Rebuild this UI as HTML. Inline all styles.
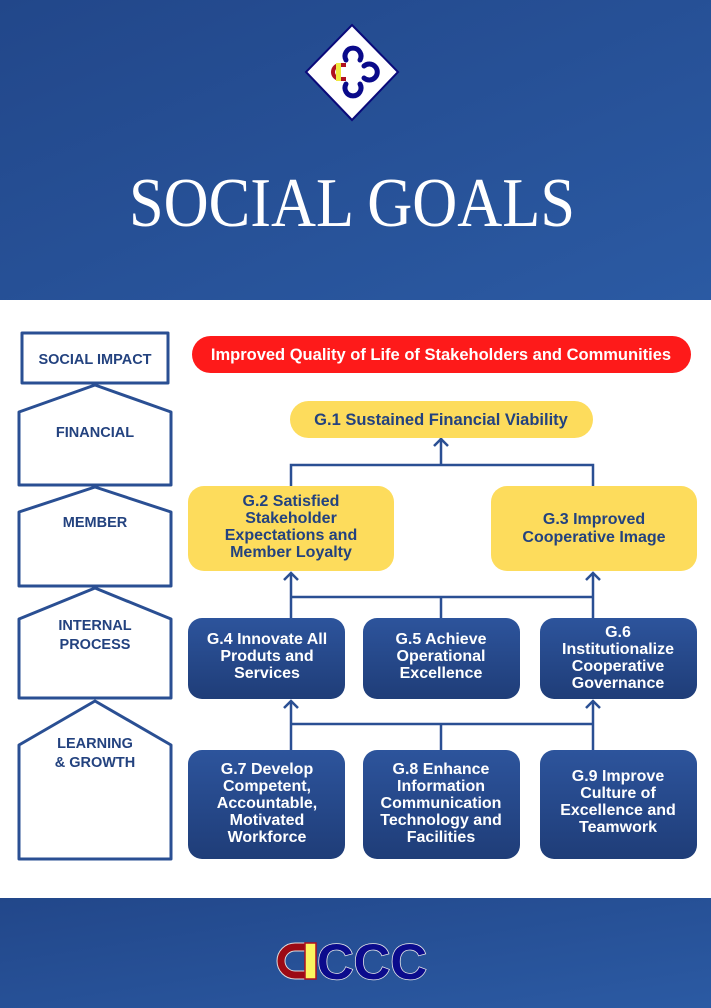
<!DOCTYPE html>
<html><head><meta charset="utf-8"><style>
html,body{margin:0;padding:0;width:711px;height:1008px;overflow:hidden}
svg{display:block}
text{font-family:"Liberation Sans",sans-serif;font-weight:bold}
</style></head><body>
<svg width="711" height="1008" viewBox="0 0 711 1008" xmlns="http://www.w3.org/2000/svg">
<defs>
<linearGradient id="bg" x1="0" y1="0" x2="1" y2="1"><stop offset="0" stop-color="#22478a"/><stop offset="1" stop-color="#2b5aa3"/></linearGradient>
<linearGradient id="nb" x1="0" y1="0" x2="0" y2="1"><stop offset="0" stop-color="#2d549c"/><stop offset="1" stop-color="#1f3d78"/></linearGradient>
</defs>
<rect width="711" height="300" fill="url(#bg)"/>
<rect y="898" width="711" height="110" fill="url(#bg)"/>
<rect y="300" width="711" height="598" fill="#fff"/>
<!-- top logo -->
<polygon points="352,25 398,72 352,120 306,72" fill="#fff" stroke="#0a0a7a" stroke-width="2"/>
<path d="M346,63 h-6 a9,9 0 0 0 0,18 h6 v-4 h-6 a5,5 0 0 1 0,-10 h6z" fill="#b01020"/>
<rect x="336" y="63" width="5" height="18" fill="#f0e840"/>
<g fill="none" stroke="#0a0a8a" stroke-width="5" stroke-linecap="round">
<path d="M346,60 A8,8 0 1 1 360,60"/>
<path d="M346,84 A8,8 0 1 0 360,84"/>
<path d="M364,66 A8,8 0 1 1 364,78"/>
</g>
<text x="352" y="226" text-anchor="middle" style="font-family:'Liberation Serif',serif;font-weight:normal" font-size="70" fill="#fff" textLength="446" lengthAdjust="spacingAndGlyphs">SOCIAL GOALS</text>
<!-- left column -->
<g fill="none" stroke="#2a4f93" stroke-width="3" stroke-linejoin="round">
<rect x="22" y="333" width="146" height="50"/>
<polygon points="95,385 171,412 171,485 19,485 19,412"/>
<polygon points="95,487 171,512 171,586 19,586 19,512"/>
<polygon points="95,588 171,619 171,698 19,698 19,619"/>
<polygon points="95,701 171,745 171,859 19,859 19,745"/>
</g>
<g fill="#23427f" font-size="14.5" text-anchor="middle">
<text x="95" y="364">SOCIAL IMPACT</text>
<text x="95" y="437">FINANCIAL</text>
<text x="95" y="527">MEMBER</text>
<text x="95" y="630">INTERNAL</text>
<text x="95" y="649">PROCESS</text>
<text x="95" y="748">LEARNING</text>
<text x="95" y="767">&amp; GROWTH</text>
</g>
<!-- connectors -->
<g fill="none" stroke="#2a4f93" stroke-width="2.5">
<path d="M441,438 V465 M291,486 V465 H593 V486"/>
<path d="M434,446 L441,439 L448,446"/>
<path d="M291,573 V618 M593,573 V618 M291,597 H593 M441,597 V618"/>
<path d="M284,580 L291,573 L298,580 M586,580 L593,573 L600,580"/>
<path d="M291,701 V750 M593,701 V750 M291,724 H593 M441,724 V750"/>
<path d="M284,708 L291,701 L298,708 M586,708 L593,701 L600,708"/>
</g>
<!-- nodes -->
<rect x="192" y="336" width="499" height="37" rx="18.5" fill="#fe1a1a"/>
<text x="441" y="360" font-size="16.5" fill="#fff" text-anchor="middle">Improved Quality of Life of Stakeholders and Communities</text>
<rect x="290" y="401" width="303" height="37" rx="18.5" fill="#fddc5c"/>
<text x="441" y="425" font-size="16.5" fill="#23427f" text-anchor="middle">G.1 Sustained Financial Viability</text>
<rect x="188" y="486" width="206" height="85" rx="16" fill="#fddc5c"/>
<rect x="491" y="486" width="206" height="85" rx="16" fill="#fddc5c"/>
<g font-size="16" fill="#23427f" text-anchor="middle">
<text x="291" y="506">G.2 Satisfied</text>
<text x="291" y="523">Stakeholder</text>
<text x="291" y="540">Expectations and</text>
<text x="291" y="557">Member Loyalty</text>
<text x="594" y="524">G.3 Improved</text>
<text x="594" y="542">Cooperative Image</text>
</g>
<g fill="url(#nb)">
<rect x="188" y="618" width="157" height="81" rx="14"/>
<rect x="363" y="618" width="157" height="81" rx="14"/>
<rect x="540" y="618" width="157" height="81" rx="14"/>
<rect x="188" y="750" width="157" height="109" rx="14"/>
<rect x="363" y="750" width="157" height="109" rx="14"/>
<rect x="540" y="750" width="157" height="109" rx="14"/>
</g>
<g font-size="16" fill="#fff" text-anchor="middle">
<text x="267" y="644">G.4 Innovate All</text>
<text x="267" y="661">Produts and</text>
<text x="267" y="678">Services</text>
<text x="441" y="644">G.5 Achieve</text>
<text x="441" y="661">Operational</text>
<text x="441" y="678">Excellence</text>
<text x="618" y="637">G.6</text>
<text x="618" y="654">Institutionalize</text>
<text x="618" y="671">Cooperative</text>
<text x="618" y="688">Governance</text>
<text x="267" y="774">G.7 Develop</text>
<text x="267" y="791">Competent,</text>
<text x="267" y="808">Accountable,</text>
<text x="267" y="825">Motivated</text>
<text x="267" y="842">Workforce</text>
<text x="441" y="774">G.8 Enhance</text>
<text x="441" y="791">Information</text>
<text x="441" y="808">Communication</text>
<text x="441" y="825">Technology and</text>
<text x="441" y="842">Facilities</text>
<text x="618" y="781">G.9 Improve</text>
<text x="618" y="798">Culture of</text>
<text x="618" y="815">Excellence and</text>
<text x="618" y="832">Teamwork</text>
</g>
<!-- bottom logo -->
<path d="M306,943 h-11 a18,18 0 0 0 0,36 h11 v-8 h-11 a10,10 0 0 1 0,-20 h11z" fill="#9c0a14" stroke="#ddd" stroke-width="1"/>
<rect x="305" y="943" width="11" height="36" fill="#fbf560" stroke="#b01020" stroke-width="1.5"/>
<text x="372" y="979" font-size="50" fill="#0b0b8c" stroke="#e8e8e8" stroke-width="1.5" paint-order="stroke" text-anchor="middle" textLength="110" lengthAdjust="spacingAndGlyphs" style="font-weight:900">CCC</text>
</svg>
</body></html>
